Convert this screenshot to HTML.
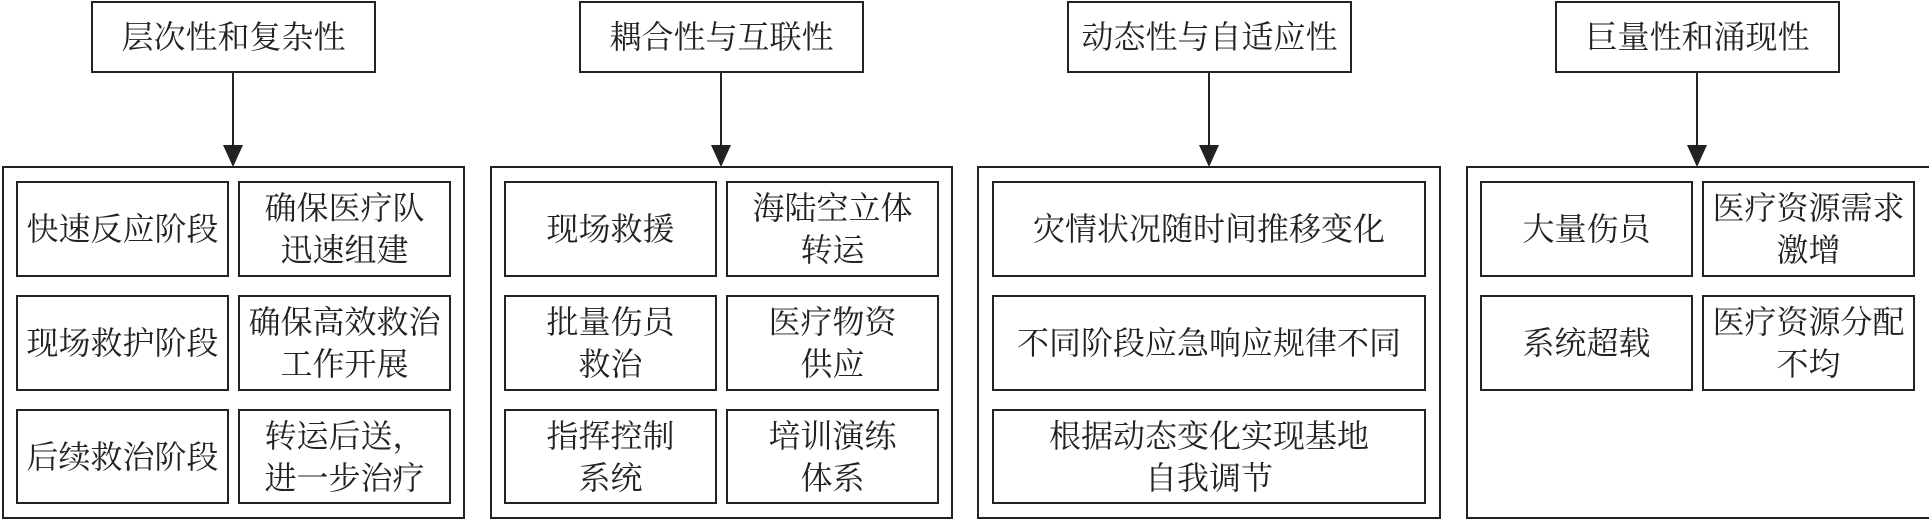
<!DOCTYPE html>
<html><head><meta charset="utf-8"><style>
body{margin:0;width:1929px;height:520px;background:#fff;position:relative;overflow:hidden;font-family:"Liberation Serif","Noto Serif CJK SC","Noto Sans CJK SC",serif;color:#222}
.b{position:absolute;border:2px solid #222;box-sizing:border-box;display:flex;align-items:center;justify-content:center;text-align:center;font-size:32px;line-height:42px}
.l{position:absolute;width:2px;background:#222}
.a{position:absolute;width:0;height:0;border-left:10px solid transparent;border-right:10px solid transparent;border-top:22px solid #222}
</style></head><body>
<!-- col 1 -->
<div class="b" style="left:91px;top:1px;width:285px;height:72px">层次性和复杂性</div>
<div class="l" style="left:232px;top:73px;height:80px"></div><div class="a" style="left:223px;top:145px"></div>
<div class="b" style="left:2px;top:166px;width:463px;height:353px"></div>
<div class="b" style="left:16px;top:181px;width:213px;height:96px">快速反应阶段</div>
<div class="b" style="left:238px;top:181px;width:213px;height:96px">确保医疗队<br>迅速组建</div>
<div class="b" style="left:16px;top:295px;width:213px;height:96px">现场救护阶段</div>
<div class="b" style="left:238px;top:295px;width:213px;height:96px">确保高效救治<br>工作开展</div>
<div class="b" style="left:16px;top:409px;width:213px;height:95px">后续救治阶段</div>
<div class="b" style="left:238px;top:409px;width:213px;height:95px">转运后送，<br>进一步治疗</div>
<!-- col 2 -->
<div class="b" style="left:579px;top:1px;width:285px;height:72px">耦合性与互联性</div>
<div class="l" style="left:720px;top:73px;height:80px"></div><div class="a" style="left:711px;top:145px"></div>
<div class="b" style="left:490px;top:166px;width:463px;height:353px"></div>
<div class="b" style="left:504px;top:181px;width:213px;height:96px">现场救援</div>
<div class="b" style="left:726px;top:181px;width:213px;height:96px">海陆空立体<br>转运</div>
<div class="b" style="left:504px;top:295px;width:213px;height:96px">批量伤员<br>救治</div>
<div class="b" style="left:726px;top:295px;width:213px;height:96px">医疗物资<br>供应</div>
<div class="b" style="left:504px;top:409px;width:213px;height:95px">指挥控制<br>系统</div>
<div class="b" style="left:726px;top:409px;width:213px;height:95px">培训演练<br>体系</div>
<!-- col 3 -->
<div class="b" style="left:1067px;top:1px;width:285px;height:72px">动态性与自适应性</div>
<div class="l" style="left:1208px;top:73px;height:80px"></div><div class="a" style="left:1199px;top:145px"></div>
<div class="b" style="left:977px;top:166px;width:464px;height:353px"></div>
<div class="b" style="left:992px;top:181px;width:434px;height:96px">灾情状况随时间推移变化</div>
<div class="b" style="left:992px;top:295px;width:434px;height:96px">不同阶段应急响应规律不同</div>
<div class="b" style="left:992px;top:409px;width:434px;height:95px">根据动态变化实现基地<br>自我调节</div>
<!-- col 4 -->
<div class="b" style="left:1555px;top:1px;width:285px;height:72px">巨量性和涌现性</div>
<div class="l" style="left:1696px;top:73px;height:80px"></div><div class="a" style="left:1687px;top:145px"></div>
<div class="b" style="left:1466px;top:166px;width:470px;height:353px"></div>
<div class="b" style="left:1480px;top:181px;width:213px;height:96px">大量伤员</div>
<div class="b" style="left:1702px;top:181px;width:213px;height:96px">医疗资源需求<br>激增</div>
<div class="b" style="left:1480px;top:295px;width:213px;height:96px">系统超载</div>
<div class="b" style="left:1702px;top:295px;width:213px;height:96px">医疗资源分配<br>不均</div>
</body></html>
